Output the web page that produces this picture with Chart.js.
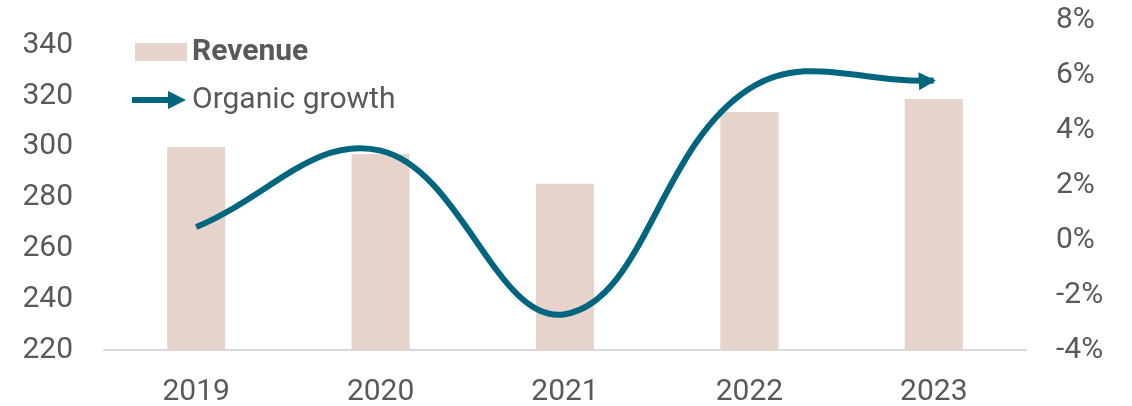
<!DOCTYPE html>
<html>
<head>
<meta charset="utf-8">
<script src="https://cdn.jsdelivr.net/npm/chart.js@4.4.1/dist/chart.umd.min.js"></script>
<style>
  body { margin: 0; background: #fff; }
  canvas { display: block; }
</style>
</head>
<body>
<canvas id="myChart" width="1132" height="406"></canvas>
<script>
var years = ["2019", "2020", "2021", "2022", "2023"];
var revenue = [300, 297.2, 285.5, 313.8, 318.9];
var growth = [0.47, 3.25, -2.7, 5.5, 5.8];
var seriesNames = ["Revenue", "Organic growth"];

var barColor = "#E6D3CC";
var lineColor = "#00667F";
var textColor = "#595959";
var fontFamily = "Roboto, 'Liberation Sans', sans-serif";

// arrow head at the end of the growth line
var arrowPlugin = {
  id: "arrowEnd",
  afterDatasetsDraw: function (chart) {
    var meta = chart.getDatasetMeta(0);
    var pts = meta.data;
    var last = pts[pts.length - 1];
    var prev = pts[pts.length - 2];
    var fx = last.cp1x !== undefined ? last.cp1x : prev.x;
    var fy = last.cp1y !== undefined ? last.cp1y : prev.y;
    var ang = Math.atan2(last.y - fy, last.x - fx);
    var ctx = chart.ctx;
    ctx.save();
    ctx.translate(last.x, last.y);
    ctx.rotate(ang);
    ctx.fillStyle = lineColor;
    ctx.beginPath();
    ctx.moveTo(2, 0);
    ctx.lineTo(-15, -9);
    ctx.lineTo(-15, 9);
    ctx.closePath();
    ctx.fill();
    ctx.restore();
  }
};

// legend drawn in the top left corner of the plot
var legendPlugin = {
  id: "innerLegend",
  afterDraw: function (chart) {
    var ctx = chart.ctx;
    ctx.save();
    ctx.fillStyle = barColor;
    ctx.fillRect(135, 43, 52, 18);
    ctx.strokeStyle = lineColor;
    ctx.lineWidth = 6;
    ctx.beginPath();
    ctx.moveTo(132, 100);
    ctx.lineTo(170, 100);
    ctx.stroke();
    ctx.fillStyle = lineColor;
    ctx.beginPath();
    ctx.moveTo(186, 100);
    ctx.lineTo(168, 91);
    ctx.lineTo(168, 109);
    ctx.closePath();
    ctx.fill();
    ctx.fillStyle = textColor;
    ctx.textBaseline = "middle";
    ctx.font = "bold 30px " + fontFamily;
    ctx.fillText(seriesNames[0], 192, 52);
    ctx.font = "30px " + fontFamily;
    ctx.fillText(seriesNames[1], 192, 100);
    ctx.restore();
  }
};

new Chart("myChart", {
  data: {
    labels: years,
    datasets: [{
      type: "line",
      label: seriesNames[1],
      data: growth,
      yAxisID: "y2",
      borderColor: lineColor,
      borderWidth: 6,
      pointRadius: 0,
      tension: 0.4,
      fill: false,
      order: 0
    }, {
      type: "bar",
      label: seriesNames[0],
      data: revenue,
      yAxisID: "y",
      backgroundColor: barColor,
      categoryPercentage: 1,
      barPercentage: 0.315,
      order: 1
    }]
  },
  options: {
    responsive: false,
    animation: false,
    layout: { padding: { top: 20, left: 0, right: 0, bottom: 0 } },
    plugins: {
      legend: { display: false },
      tooltip: { enabled: false }
    },
    scales: {
      x: {
        grid: { display: false, drawTicks: false },
        border: { display: true, color: "#D9D9D9", width: 2 },
        ticks: { color: textColor, font: { family: fontFamily, size: 30 }, padding: 24 },
        afterFit: function (s) { s.height = 56; }
      },
      y: {
        position: "left",
        min: 220,
        max: 350,
        grid: { display: false, drawTicks: true, tickLength: 31 },
        border: { display: false },
        ticks: {
          stepSize: 20,
          includeBounds: false,
          color: textColor,
          font: { family: fontFamily, size: 30 },
          padding: 0
        },
        afterFit: function (s) { s.width = 104; }
      },
      y2: {
        position: "right",
        min: -4,
        max: 8,
        grid: { display: false, drawTicks: true, tickLength: 30 },
        border: { display: false },
        ticks: {
          stepSize: 2,
          color: textColor,
          font: { family: fontFamily, size: 30 },
          padding: 0,
          callback: function (v) { return v + "%"; }
        },
        afterFit: function (s) { s.width = 106; }
      }
    }
  },
  plugins: [arrowPlugin, legendPlugin]
});
</script>
</body>
</html>
